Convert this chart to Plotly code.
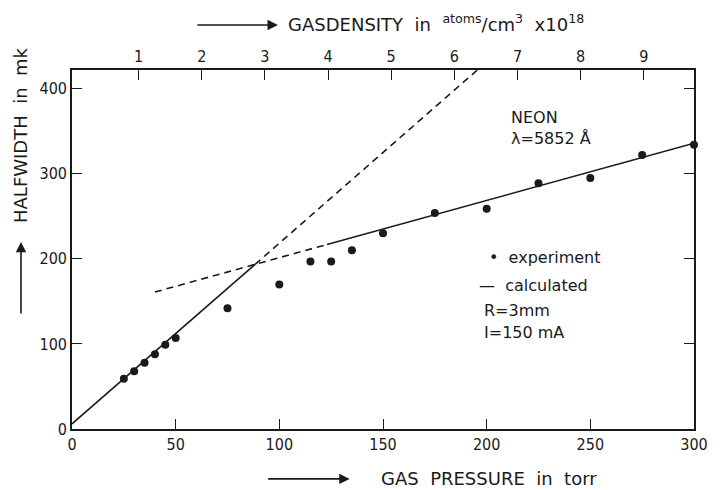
import plotly.graph_objects as go

# Experimental data (gas pressure in torr, halfwidth in mK)
exp_pressure = [25, 30, 35, 40, 45, 50, 75, 100, 115, 125, 135, 150, 175, 200, 225, 250, 275, 300]
exp_halfwidth = [59, 68, 78, 88, 99, 107, 142, 170, 197, 197, 210, 230, 254, 259, 289, 295, 322, 334]

# Calculated curves (two straight-line regimes)
calc_low_solid_x = [0, 88.3]
calc_low_solid_y = [6, 193.5]
calc_low_dash_x = [88.3, 195.5]
calc_low_dash_y = [193.5, 422]
calc_high_dash_x = [40, 88.3, 123]
calc_high_dash_y = [161, 193.5, 216.9]
calc_high_solid_x = [123, 300]
calc_high_solid_y = [216.9, 336]

# Axis tick values
x_ticks = [0, 50, 100, 150, 200, 250, 300]
y_ticks = [0, 100, 200, 300, 400]
density_ticks = [1, 2, 3, 4, 5, 6, 7, 8, 9]
torr_per_density = 30.46   # torr per 1e18 atoms/cm3
torr_offset = 1.65

FONT = "Liberation Sans Narrow, DejaVu Sans Condensed, Arial Narrow, sans-serif"
TFONT = "DejaVu Sans, sans-serif"
INK = "#1a1a1a"

fig = go.Figure()
fig.add_trace(go.Scatter(x=calc_low_solid_x, y=calc_low_solid_y, mode="lines",
                         line=dict(color=INK, width=1.6), hoverinfo="skip"))
fig.add_trace(go.Scatter(x=calc_low_dash_x, y=calc_low_dash_y, mode="lines",
                         line=dict(color=INK, width=1.6, dash="7px,5px"), hoverinfo="skip"))
fig.add_trace(go.Scatter(x=calc_high_dash_x, y=calc_high_dash_y, mode="lines",
                         line=dict(color=INK, width=1.6, dash="7px,5px"), hoverinfo="skip"))
fig.add_trace(go.Scatter(x=calc_high_solid_x, y=calc_high_solid_y, mode="lines",
                         line=dict(color=INK, width=1.6), hoverinfo="skip"))
fig.add_trace(go.Scatter(x=exp_pressure, y=exp_halfwidth, mode="markers",
                         marker=dict(color=INK, size=8), cliponaxis=False))
# invisible trace to activate the top density axis
fig.add_trace(go.Scatter(x=[density_ticks[0]], y=[0], xaxis="x2", mode="markers",
                         marker=dict(opacity=0), hoverinfo="skip"))

x2_range = [(0 - torr_offset) / torr_per_density, (300 - torr_offset) / torr_per_density]

axis_common = dict(showgrid=False, zeroline=False, showline=True, linecolor=INK, linewidth=1.6,
                   ticks="inside", ticklen=10, tickwidth=1.4, tickcolor=INK,
                   tickfont=dict(family=FONT, size=16, color=INK))

fig.update_layout(
    width=720, height=490,
    margin=dict(l=72, r=14, t=70, b=61),
    paper_bgcolor="white", plot_bgcolor="white",
    showlegend=False,
    xaxis=dict(range=[0, 300], tickvals=x_ticks, **axis_common),
    xaxis2=dict(range=x2_range, tickvals=density_ticks, overlaying="x", side="top",
                anchor="y", **axis_common),
    yaxis=dict(range=[0, 422], tickvals=y_ticks, mirror="ticks", **axis_common),
)

def txt(x, y, s, size=16, xanchor="left", angle=0, family=TFONT):
    fig.add_annotation(xref="paper", yref="paper", x=x, y=y, text=s, showarrow=False,
                       xanchor=xanchor, yanchor="middle", textangle=angle,
                       font=dict(family=family, size=size, color=INK))

def arrow(x, y, ax, ay):
    fig.add_annotation(xref="paper", yref="paper", x=x, y=y, ax=ax, ay=ay, text="",
                       showarrow=True, arrowhead=2, arrowsize=1.3, arrowwidth=1.6,
                       arrowcolor=INK)

# axis titles with arrows
arrow(0.331, 1.1253, -82, 0)
txt(0.344, 1.13, "GASDENSITY  in  <sup>atoms</sup>/cm<sup>3</sup>  x10<sup>18</sup>", size=18)
arrow(0.4464, -0.139, -83, 0)
txt(0.4937, -0.139, "GAS  PRESSURE  in  torr", size=18)
arrow(-0.082, 0.521, 0, 73)
txt(-0.082, 0.819, "HALFWIDTH  in  mk", size=18, xanchor="center", angle=-90)

# in-plot labels
txt(0.702, 0.869, "NEON", size=16)
txt(0.702, 0.808, "λ=5852 Å", size=16)
txt(0.667, 0.479, "•  experiment", size=16)
txt(0.651, 0.401, "—  calculated", size=16)
txt(0.659, 0.331, "R=3mm", size=16)
txt(0.659, 0.270, "I=150 mA", size=16)

fig.write_html("out.html")
